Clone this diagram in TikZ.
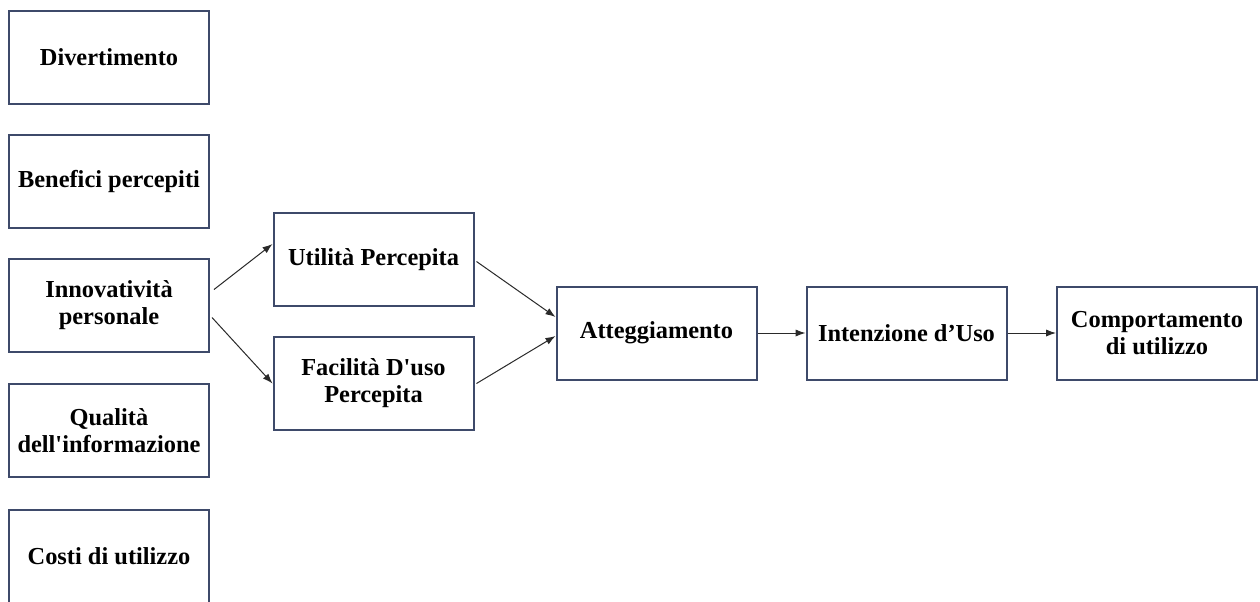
\documentclass[tikz,border=0pt]{standalone}
\usepackage{fontspec}
\setmainfont{Liberation Serif}
\usetikzlibrary{arrows.meta}
\definecolor{boxline}{HTML}{3E4A6A}
\definecolor{arrowline}{HTML}{2A2A2A}
\tikzset{
  fbox/.style={draw=boxline, line width=1pt, fill=white, minimum width=100pt, minimum height=46.5pt, align=center, inner sep=2pt,
    font=\fontsize{12.2}{13.6}\selectfont\bfseries},
  conn/.style={draw=arrowline, line width=0.5pt, -{Latex[length=5pt,width=3.6pt]}}
}
\begin{document}
\begin{tikzpicture}[x=0.5pt,y=-0.5pt]
\useasboundingbox[fill=white] (0,0) rectangle (1260,601);
\begin{scope}
\clip (0,0) rectangle (1260,601);
\node[fbox] (div) at (109,57.5) {Divertimento};
\node[fbox] (ben) at (109,181.5) {Benefici percepiti};
\node[fbox] (inn) at (109,305.5) {Innovatività\\personale};
\node[fbox] (qual) at (109,430.5) {Qualità\\dell\textquotesingle informazione};
\node[fbox] (cost) at (109,556) {Costi di utilizzo};
\node[fbox] (util) at (373.5,259.5) {Utilità Percepita};
\node[fbox] (fac) at (373.5,383.5) {Facilità D\textquotesingle uso\\Percepita};
\node[fbox] (att) at (656.5,333) {Atteggiamento};
\node[fbox] (int) at (906.5,333) {Intenzione d’Uso};
\node[fbox] (comp) at (1157,333) {Comportamento\\di utilizzo};
\end{scope}
\draw[conn] ([xshift=2pt,yshift=8pt]inn.east) -- ([yshift=7.75pt]util.west);
\draw[conn] ([xshift=1pt,yshift=-6pt]inn.east) -- (fac.west);
\draw[conn] ([xshift=1pt,yshift=-1pt]util.east) -- ([yshift=8pt]att.west);
\draw[conn] ([xshift=1pt]fac.east) -- ([yshift=-1.5pt]att.west);
\draw[conn] (att.east) -- (int.west);
\draw[conn] (int.east) -- (comp.west);
\end{tikzpicture}
\end{document}
